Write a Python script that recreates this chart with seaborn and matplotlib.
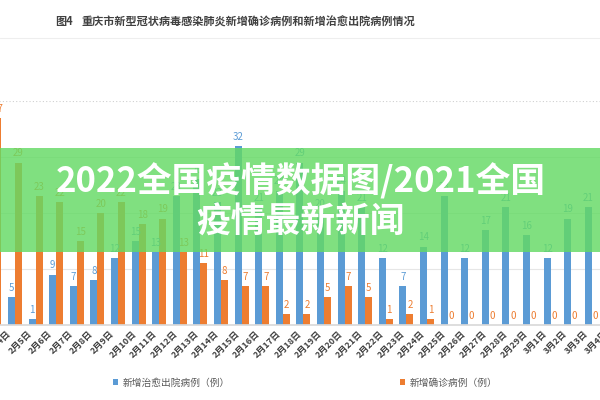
import seaborn as sns
import matplotlib.pyplot as plt
import matplotlib.transforms as mtransforms
import pandas as pd
from matplotlib.patches import Rectangle

# dates on the x axis (2020, chart is cropped on both sides)
dates = ["2月4日", "2月5日", "2月6日", "2月7日", "2月8日", "2月9日", "2月10日",
         "2月11日", "2月12日", "2月13日", "2月14日", "2月15日", "2月16日", "2月17日",
         "2月18日", "2月19日", "2月20日", "2月21日", "2月22日", "2月23日", "2月24日",
         "2月25日", "2月26日", "2月27日", "2月28日", "2月29日", "3月1日", "3月2日",
         "3月3日", "3月4日"]

# 新增治愈出院病例 (blue)
cured = [3, 5, 1, 9, 7, 8, 12, 15, 13, 23, 26, 22, 32, 21, 24, 29, 20, 24, 21,
         12, 7, 14, 23, 12, 17, 21, 16, 12, 19, 21]

# 新增确诊病例 (orange)
confirmed = [37, 29, 23, 22, 15, 20, 22, 18, 19, 13, 11, 8, 7, 7, 2, 2, 5, 7, 5,
             1, 2, 1, 0, 0, 0, 0, 0, 0, 0, 0]

series_names = ["新增治愈出院病例（例）", "新增确诊病例（例）"]
colors = ["#5B9BD5", "#ED7D31"]

title_text = "重庆市新型冠状病毒感染肺炎新增确诊病例和新增治愈出院病例情况"
banner_lines = ["2022全国疫情数据图/2021全国", "疫情最新新闻"]

df = pd.DataFrame({
    "date": dates * 2,
    "value": cured + confirmed,
    "series": [series_names[0]] * len(dates) + [series_names[1]] * len(dates),
})

sns.set_theme(style="white")
plt.rcParams["font.family"] = ["Noto Sans CJK SC", "DejaVu Sans"]

fig = plt.figure(figsize=(6, 4), dpi=100)
# axes runs a little past the left edge so the first date label still shows
ax = fig.add_axes([-20 / 600, 0.1875, 620 / 600, 0.56])

sns.barplot(data=df, x="date", y="value", hue="series", order=dates,
            hue_order=series_names, palette=colors, width=0.68,
            errorbar=None, saturation=1, linewidth=0, ax=ax)

ax.set_xlim(-0.7, 29.4)
ax.set_ylim(0, 40)
ax.set_xlabel("")
ax.set_ylabel("")
ax.set_yticks([])

# grid
for v in [10, 20, 30]:
    ax.axhline(v, color="#E6E6E6", lw=0.8, zorder=0)
ax.axhline(40, color="#D0D0D0", lw=0.8, ls=(0, (1, 2)), zorder=0)

for s in ["left", "right", "top"]:
    ax.spines[s].set_visible(False)
ax.spines["bottom"].set_color("#D9D9D9")

for cont, col in zip(ax.containers, colors):
    ax.bar_label(cont, padding=3, fontsize=7, color=col)

ax.tick_params(axis="x", length=0, pad=3)
shift = mtransforms.ScaledTranslation(0.05, 0, fig.dpi_scale_trans)
for lab in ax.get_xticklabels():
    lab.set_rotation(45)
    lab.set_ha("center")
    lab.set_va("top")
    lab.set_fontsize(6.5)
    lab.set_fontweight("bold")
    lab.set_color("#404040")
    lab.set_transform(lab.get_transform() + shift)

handles, labels = ax.get_legend_handles_labels()
ax.legend_.remove()
fig.legend(handles, labels, loc="center", bbox_to_anchor=(0.508, 0.043),
           ncol=2, frameon=False, fontsize=7, handlelength=0.6,
           handleheight=0.6, handletextpad=0.4, columnspacing=17.5,
           labelcolor="#595959")

# title
fig.text(55 / 600, 1 - 22 / 400, "图4", fontsize=8, fontweight="bold",
         color="#404040", va="center")
fig.text(82 / 600, 1 - 22 / 400, title_text, fontsize=8, fontweight="bold",
         color="#404040", va="center")
fig.add_artist(plt.Line2D([0, 1], [1 - 38 / 400, 1 - 38 / 400],
                          color="#EEEEEE", lw=0.8, transform=fig.transFigure))

# green banner on top
fig.add_artist(Rectangle((0, 1 - 252 / 400), 1, 104 / 400,
                         transform=fig.transFigure, color="#64DA64",
                         alpha=0.82, lw=0, zorder=5))
fig.text(0.502, 1 - 181 / 400, banner_lines[0], fontsize=25, fontweight="bold",
         color="white", ha="center", va="center", zorder=6)
fig.text(0.5, 1 - 222 / 400, banner_lines[1], fontsize=25, fontweight="bold",
         color="white", ha="center", va="center", zorder=6)

fig.savefig("out.png", dpi=100)
